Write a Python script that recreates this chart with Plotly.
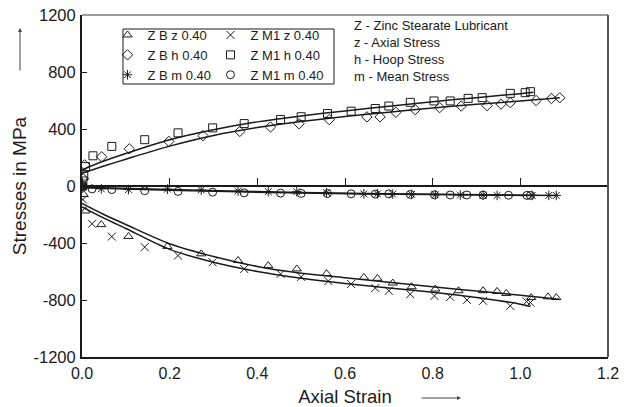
import plotly.graph_objects as go

# ---------------- data: stress vs axial strain ----------------
# Z B z 0.40 (axial stress)
bz_x = [0.0, 0.004, 0.008, 0.044, 0.106, 0.195, 0.272, 0.356, 0.425, 0.49, 0.558,
        0.643, 0.674, 0.709, 0.752, 0.806, 0.859, 0.915, 0.947, 0.968, 1.025, 1.063, 1.082]
bz_y = [-10, -60, -175, -271, -354, -424, -476, -523, -559, -582, -615,
        -641, -648, -681, -707, -723, -735, -735, -740, -754, -783, -778, -783]
# Z M1 z 0.40
mz_x = [0.0, 0.002, 0.023, 0.068, 0.143, 0.219, 0.298, 0.37, 0.453, 0.50, 0.562,
        0.614, 0.669, 0.70, 0.749, 0.804, 0.84, 0.878, 0.915, 0.977, 1.014, 1.023]
mz_y = [-5, -95, -265, -355, -429, -488, -535, -582, -617, -638, -667,
        -688, -716, -735, -759, -771, -778, -799, -806, -841, -811, -818]
# Z B h 0.40 (hoop stress)
bh_x = [0.0, 0.003, 0.006, 0.045, 0.108, 0.198, 0.276, 0.36, 0.43, 0.495, 0.564,
        0.65, 0.68, 0.716, 0.76, 0.816, 0.865, 0.924, 0.956, 0.977, 1.036, 1.071, 1.09]
bh_y = [5, 50, 148, 205, 261, 313, 353, 383, 414, 437, 466,
        485, 485, 517, 536, 550, 561, 564, 575, 585, 600, 614, 619]
# Z M1 h 0.40
mh_x = [0.0, 0.002, 0.004, 0.008, 0.025, 0.068, 0.143, 0.219, 0.298, 0.37, 0.453, 0.50,
        0.56, 0.614, 0.669, 0.70, 0.749, 0.803, 0.84, 0.881, 0.913, 0.977, 1.011, 1.023]
mh_y = [0, 35, 70, 136, 212, 278, 325, 373, 408, 438, 467, 486,
        509, 525, 544, 561, 587, 597, 597, 615, 620, 650, 655, 662]
# Z B m 0.40 (mean stress)
bm_x = [0.0, 0.044, 0.106, 0.195, 0.272, 0.356, 0.425, 0.49, 0.558, 0.643,
        0.674, 0.709, 0.752, 0.806, 0.863, 0.915, 0.947, 1.027, 1.065, 1.082]
bm_y = [-5, -20, -25, -22, -28, -35, -40, -40, -47, -55,
        -55, -57, -59, -62, -63, -64, -66, -66, -66, -66]
# Z M1 m 0.40
mm_x = [0.0, 0.023, 0.068, 0.143, 0.219, 0.298, 0.37, 0.453, 0.50, 0.56, 0.614,
        0.669, 0.70, 0.749, 0.804, 0.84, 0.878, 0.915, 0.973, 1.015, 1.023]
mm_y = [-3, -20, -25, -33, -38, -43, -48, -50, -52, -53, -55,
        -57, -55, -59, -62, -63, -63, -64, -65, -66, -66]

# fitted trend curves
fit_mh_x = [0, 0.05, 0.1, 0.2, 0.3, 0.4, 0.5, 0.6, 0.7, 0.8, 0.9, 1.0, 1.03]
fit_mh_y = [113, 175, 228, 325, 395, 450, 492, 527, 560, 592, 620, 648, 658]
fit_bh_x = [0, 0.05, 0.1, 0.2, 0.3, 0.4, 0.5, 0.6, 0.7, 0.8, 0.9, 1.0, 1.09]
fit_bh_y = [90, 140, 188, 280, 355, 410, 452, 487, 518, 548, 573, 597, 620]
fit_bz_x = [0, 0.05, 0.1, 0.2, 0.3, 0.4, 0.5, 0.6, 0.7, 0.8, 0.9, 1.0, 1.088]
fit_bz_y = [-122, -200, -270, -405, -495, -565, -612, -643, -675, -707, -737, -767, -794]
fit_mz_x = [0, 0.05, 0.1, 0.2, 0.3, 0.4, 0.5, 0.6, 0.7, 0.8, 0.9, 0.98, 1.023]
fit_mz_y = [-146, -225, -298, -445, -535, -600, -648, -685, -715, -745, -782, -818, -845]
fit_bm_x = [0, 0.2, 0.5, 0.8, 1.08]
fit_bm_y = [-8, -25, -45, -58, -66]
fit_mm_x = [0, 0.2, 0.5, 0.8, 1.02]
fit_mm_y = [-12, -30, -50, -60, -66]

x_ticks = [0.0, 0.2, 0.4, 0.6, 0.8, 1.0, 1.2]
y_ticks = [-1200, -800, -400, 0, 400, 800, 1200]

notes = ["Z - Zinc Stearate Lubricant", "z - Axial Stress", "h - Hoop Stress", "m - Mean Stress"]

FONT = "Liberation Sans, Arial, sans-serif"
INK = "#1a1a1a"

fig = go.Figure()


def markers(name, x, y, symbol, legend, size=8, xaxis="x"):
    fig.add_trace(go.Scatter(
        x=x, y=y, mode="markers", name=name, legend=legend, xaxis=xaxis,
        marker=dict(symbol=symbol, size=size, color=INK, line=dict(width=1, color=INK)),
    ))


def trend(x, y, xaxis="x"):
    fig.add_trace(go.Scatter(
        x=x, y=y, mode="lines", showlegend=False, hoverinfo="skip", xaxis=xaxis,
        line=dict(color=INK, width=1.5, shape="spline", smoothing=0.8),
    ))


trend(fit_mh_x, fit_mh_y)
trend(fit_bh_x, fit_bh_y)
trend(fit_bz_x, fit_bz_y)
trend(fit_mz_x, fit_mz_y)
trend(fit_bm_x, fit_bm_y, xaxis="x2")
trend(fit_mm_x, fit_mm_y, xaxis="x2")

markers("Z B z 0.40", bz_x, bz_y, "triangle-up-open", "legend", 8)
markers("Z B h 0.40", bh_x, bh_y, "diamond-open", "legend", 8)
markers("Z B m 0.40", bm_x, bm_y, "asterisk-open", "legend", 8, xaxis="x2")
markers("Z M1 z 0.40", mz_x, mz_y, "x-thin-open", "legend2", 8)
markers("Z M1 h 0.40", mh_x, mh_y, "square-open", "legend2", 8)
markers("Z M1 m 0.40", mm_x, mm_y, "circle-open", "legend2", 8, xaxis="x2")

legend_style = dict(
    xanchor="left", yanchor="top", bgcolor="rgba(0,0,0,0)", borderwidth=0,
    font=dict(family=FONT, size=13, color=INK), tracegroupgap=0, itemwidth=30,
)


def px_x(p):
    return (p - 82) / 526


def px_y(p):
    return (357 - p) / 342


annotations = [
    dict(xref="paper", yref="paper", x=px_x(352), y=px_y(51), xanchor="left", yanchor="middle",
         align="left", showarrow=False, text="<br>".join(notes),
         font=dict(size=13, family=FONT, color=INK)),
    # direction arrows next to the axis titles
    dict(xref="paper", yref="paper", x=px_x(20), y=px_y(28), ax=0, ay=44, text="",
         showarrow=True, arrowhead=2, arrowsize=0.8, arrowwidth=1, arrowcolor="#444"),
    dict(xref="paper", yref="paper", x=px_x(461), y=px_y(398), ax=-41, ay=0, text="",
         showarrow=True, arrowhead=2, arrowsize=0.8, arrowwidth=1, arrowcolor="#444"),
]

fig.update_layout(
    width=629, height=407,
    margin=dict(l=82, r=21, t=15, b=50, autoexpand=False),
    paper_bgcolor="white", plot_bgcolor="white",
    font=dict(family=FONT, color=INK),
    showlegend=True,
    legend=dict(x=px_x(107.5), y=px_y(20), **legend_style),
    legend2=dict(x=px_x(210.5), y=px_y(20), **legend_style),
    xaxis=dict(
        range=[0, 1.2], tickvals=x_ticks, ticktext=[f"{v:.1f}" for v in x_ticks],
        ticks="", showline=True, linecolor=INK, linewidth=2, showgrid=False, zeroline=False,
        tickfont=dict(size=16, family=FONT, color=INK), ticklabelstandoff=1, automargin=False,
        title=dict(text="Axial Strain", font=dict(size=18.5, family=FONT, color=INK), standoff=14),
    ),
    # axis drawn along the zero-stress line with upward ticks
    xaxis2=dict(
        range=[0, 1.2], overlaying="x", anchor="free", position=0.5, side="top",
        tickvals=x_ticks, ticks="outside", ticklen=7, tickwidth=1.2, tickcolor=INK,
        showticklabels=False, showline=True, linecolor=INK, linewidth=1.5,
        showgrid=False, zeroline=False, automargin=False,
    ),
    yaxis=dict(
        range=[-1200, 1200], tickvals=y_ticks, ticktext=[str(v) for v in y_ticks],
        ticks="inside", ticklen=5, tickcolor=INK, automargin=False,
        showline=True, linecolor=INK, linewidth=2, showgrid=False, zeroline=False,
        tickfont=dict(size=16.5, family=FONT, color=INK), ticklabelstandoff=1,
        title=dict(text="Stresses in MPa", font=dict(size=19, family=FONT, color=INK), standoff=2),
    ),
    shapes=[
        # frame: top and right edges
        dict(type="line", xref="paper", yref="paper", x0=0, x1=1, y0=1, y1=1,
             line=dict(color="#7a7a7a", width=1.5)),
        dict(type="line", xref="paper", yref="paper", x0=1, x1=1, y0=0, y1=1,
             line=dict(color="#555555", width=2)),
        # legend box
        dict(type="rect", xref="paper", yref="paper",
             x0=px_x(123), x1=px_x(334), y0=px_y(84), y1=px_y(29),
             line=dict(color=INK, width=1)),
    ],
    annotations=annotations,
)

fig.write_html("out.html")
